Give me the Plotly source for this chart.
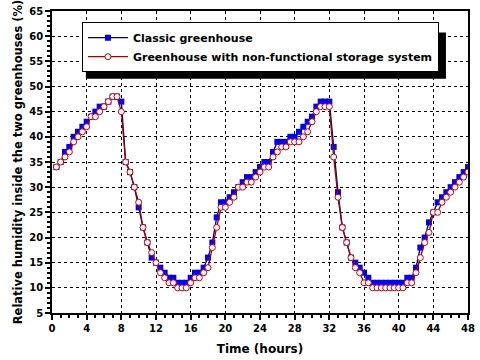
import numpy as np
import plotly.graph_objects as go

# time axis, half-hour steps
hours = np.arange(0.5, 48.5, 0.5)

# relative humidity (%)
classic = [34, 35, 37, 38, 40, 41, 42, 43, 44, 45, 46, 46, 47, 48, 48, 47,
           35, 33, 30, 26, 22, 19, 16, 15, 14, 13, 12, 12, 11, 11, 11, 12,
           13, 13, 14, 16, 19, 24, 27, 27, 28, 29, 30, 31, 32, 32, 33, 34,
           35, 35, 37, 39, 39, 39, 40, 40, 41, 42, 43, 44, 46, 47, 47, 47,
           38, 29, 22, 19, 16, 15, 14, 13, 12, 11, 11, 11, 11, 11, 11, 11,
           11, 12, 12, 14, 18, 20, 23, 25, 27, 28, 29, 30, 31, 32, 33, 34]

no_storage = [34, 35, 36, 37, 39, 40, 41, 42, 44, 44, 45, 46, 47, 48, 48, 45,
              35, 33, 30, 27, 22, 19, 17, 15, 13, 12, 11, 11, 10, 10, 10, 11,
              12, 12, 13, 14, 18, 22, 26, 26, 27, 28, 30, 30, 31, 31, 32, 33,
              34, 34, 36, 37, 38, 38, 39, 39, 39, 40, 41, 43, 45, 46, 46, 46,
              36, 28, 22, 19, 16, 14, 13, 11, 11, 10, 10, 10, 10, 10, 10, 10,
              10, 11, 11, 13, 16, 19, 21, 25, 25, 27, 28, 29, 30, 31, 32, 33]

x_ticks = list(range(0, 49, 4))
y_ticks = list(range(5, 66, 5))

fnt = "DejaVu Sans"

fig = go.Figure()
fig.add_trace(go.Scatter(
    x=hours, y=classic, name="Classic greenhouse", mode="lines+markers",
    line=dict(color="#000066", width=1.3),
    marker=dict(symbol="square", size=6, color="#0000FF", line=dict(width=0))))
fig.add_trace(go.Scatter(
    x=hours, y=no_storage, name="Greenhouse with non-functional storage system",
    mode="lines+markers",
    line=dict(color="#A00000", width=1.3),
    marker=dict(symbol="circle", size=6, color="white",
                line=dict(color="#CC0000", width=1))))

# black drop shadow behind the legend box
fig.add_shape(type="rect", xref="paper", yref="paper",
              x0=0.0815, x1=0.947, y0=0.776, y1=0.929,
              fillcolor="black", line=dict(width=0), layer="above")

axis_common = dict(
    showline=True, linecolor="black", linewidth=1.5, mirror=True,
    ticks="outside", ticklen=5, tickcolor="black", tickwidth=1.5,
    showgrid=True, gridcolor="black", griddash="dot", gridwidth=1,
    zeroline=False,
    tickfont=dict(family=fnt, size=10, color="black", weight="bold"),
)

fig.update_xaxes(range=[0, 48], tickvals=x_ticks,
                 minor=dict(dtick=1, ticks="outside", ticklen=3, tickcolor="black", showgrid=False),
                 title=dict(text="Time (hours)", standoff=12,
                            font=dict(family=fnt, size=12, color="black", weight="bold")),
                 **axis_common)
fig.update_yaxes(range=[5, 65], tickvals=y_ticks,
                 minor=dict(dtick=1, ticks="outside", ticklen=3, tickcolor="black", showgrid=False),
                 title=dict(text="Relative humidity inside the two greenhouses (%)", standoff=4,
                            font=dict(family=fnt, size=11.5, color="black", weight="bold")),
                 **axis_common)

fig.update_layout(
    width=480, height=360,
    margin=dict(l=52, r=11, t=5, b=47),
    paper_bgcolor="white", plot_bgcolor="white",
    showlegend=True,
    legend=dict(x=0.072, y=0.963, xanchor="left", yanchor="top",
                bgcolor="white", bordercolor="black", borderwidth=1,
                itemwidth=40, tracegroupgap=0,
                font=dict(family=fnt, size=11, color="black", weight="bold")),
)

# drop the default page margin so the figure sits at the window's corner
fig.write_html("out.html", config={"displayModeBar": False},
               post_script="document.body.style.margin='0px';")
